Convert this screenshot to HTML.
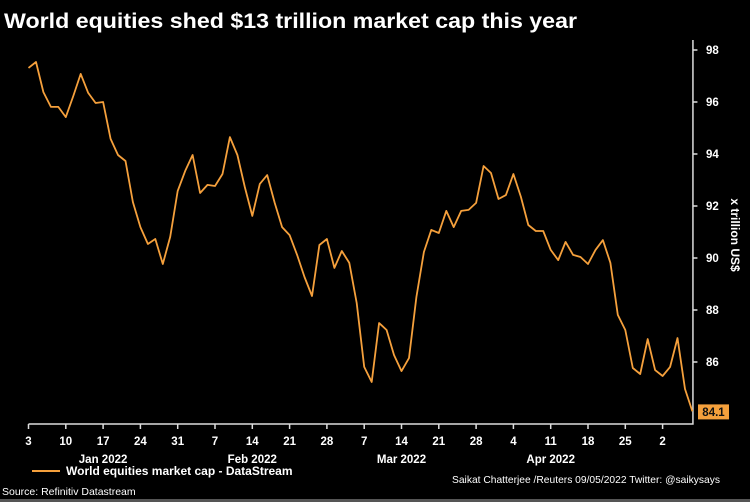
<!DOCTYPE html>
<html><head><meta charset="utf-8"><style>
html,body{margin:0;padding:0;background:#000;}
svg{display:block;font-family:"Liberation Sans",sans-serif;}
</style></head><body>
<svg width="750" height="502" viewBox="0 0 750 502">
<rect x="0" y="0" width="750" height="502" fill="#000"/>
<rect x="0" y="499" width="750" height="3" fill="#555"/>
<text x="4" y="28" fill="#fff" font-size="21" font-weight="bold" textLength="573" lengthAdjust="spacingAndGlyphs">World equities shed $13 trillion market cap this year</text>
<g id="axes"></g>
<g id="plot"></g>
<line x1="32" y1="471" x2="60" y2="471" stroke="#f5a03c" stroke-width="2"/>
<text x="66" y="475" fill="#fff" font-size="12" font-weight="bold">World equities market cap - DataStream</text>
<text x="2" y="495" fill="#fff" font-size="10.5">Source: Refinitiv Datastream</text>
<text x="452" y="483" fill="#fff" font-size="10.5" textLength="268" lengthAdjust="spacingAndGlyphs">Saikat Chatterjee /Reuters 09/05/2022 Twitter: @saikysays</text>
<text transform="translate(731,235) rotate(90)" text-anchor="middle" fill="#fff" font-size="12" font-weight="bold">x trillion US$</text>
</svg>
<script>
const values = [97.31,97.54,96.38,95.81,95.81,95.42,96.23,97.08,96.35,95.96,96.0,94.58,93.96,93.73,92.15,91.19,90.54,90.73,89.77,90.81,92.58,93.35,93.96,92.5,92.81,92.77,93.23,94.65,93.96,92.73,91.62,92.85,93.19,92.12,91.19,90.88,90.12,89.27,88.54,90.5,90.73,89.62,90.27,89.81,88.27,85.81,85.23,87.5,87.23,86.27,85.65,86.15,88.5,90.23,91.08,90.96,91.81,91.19,91.81,91.85,92.12,93.54,93.27,92.27,92.42,93.23,92.35,91.27,91.04,91.04,90.31,89.92,90.62,90.12,90.04,89.77,90.31,90.69,89.81,87.81,87.23,85.77,85.54,86.88,85.69,85.46,85.81,86.92,84.96,84.1];
const dayTicks = ["3","10","17","24","31","7","14","21","28","7","14","21","28","4","11","18","25","2"];
const monthLabels = ["Jan 2022","Feb 2022","Mar 2022","Apr 2022"];
const monthTickIndex = [10,30,50,70];
const yTicks = [86,88,90,92,94,96,98];
const lastLabel = "84.1";

const NS="http://www.w3.org/2000/svg";
const X0=28.5, STEP=7.46, Y84=414, PER=26;
function xs(i){return X0+i*STEP;}
function ys(v){return Y84-(v-84)*PER;}
function mk(tag,attrs,parent){const e=document.createElementNS(NS,tag);for(const k in attrs)e.setAttribute(k,attrs[k]);parent.appendChild(e);return e;}
const axes=document.getElementById('axes'), plot=document.getElementById('plot');
const xEnd=xs(values.length-1);
let a=mk('path',{d:`M${X0} 424 H${xEnd+0.5} V40`,fill:'none',stroke:'#ddd','stroke-width':1.5},axes);


dayTicks.forEach((t,k)=>{
  const x=xs(k*5);
  let l=mk('line',{x1:x,y1:424,x2:x,y2:429,stroke:'#ddd','stroke-width':1.5},axes);
  
  
  let tx=mk('text',{x:x,y:445,'text-anchor':'middle',fill:'#fff','font-size':11.5,'font-weight':'bold'},axes);
  tx.textContent=t;
  
  
});
monthLabels.forEach((m,k)=>{
  let tx=mk('text',{x:xs(monthTickIndex[k]),y:463,'text-anchor':'middle',fill:'#fff','font-size':11.5,'font-weight':'bold'},axes);
  tx.textContent=m;
  
  
});
yTicks.forEach(v=>{
  const y=ys(v);
  let l=mk('line',{x1:xEnd+0.5,y1:y,x2:xEnd+5,y2:y,stroke:'#ddd','stroke-width':1.5},axes);
  
  
  let tx=mk('text',{x:706,y:y+4,fill:'#fff','font-size':11.5,'font-weight':'bold'},axes);
  tx.textContent=v;
  
  
});
const pts=values.map((v,i)=>xs(i).toFixed(1)+','+ys(v).toFixed(1)).join(' ');
let pl=mk('polyline',{points:pts,fill:'none',stroke:'#f5a03c','stroke-width':1.8,'stroke-linejoin':'round'},plot);


const ly=ys(values[values.length-1]);
let box=mk('rect',{x:698,y:ly-7,width:31,height:15,fill:'#f5a03c'},plot);


let lt=mk('text',{x:713.5,y:ly+4.5,'text-anchor':'middle',fill:'#111','font-size':11.5,'font-weight':'bold'},plot);
lt.textContent=lastLabel;


</script>
</body></html>
